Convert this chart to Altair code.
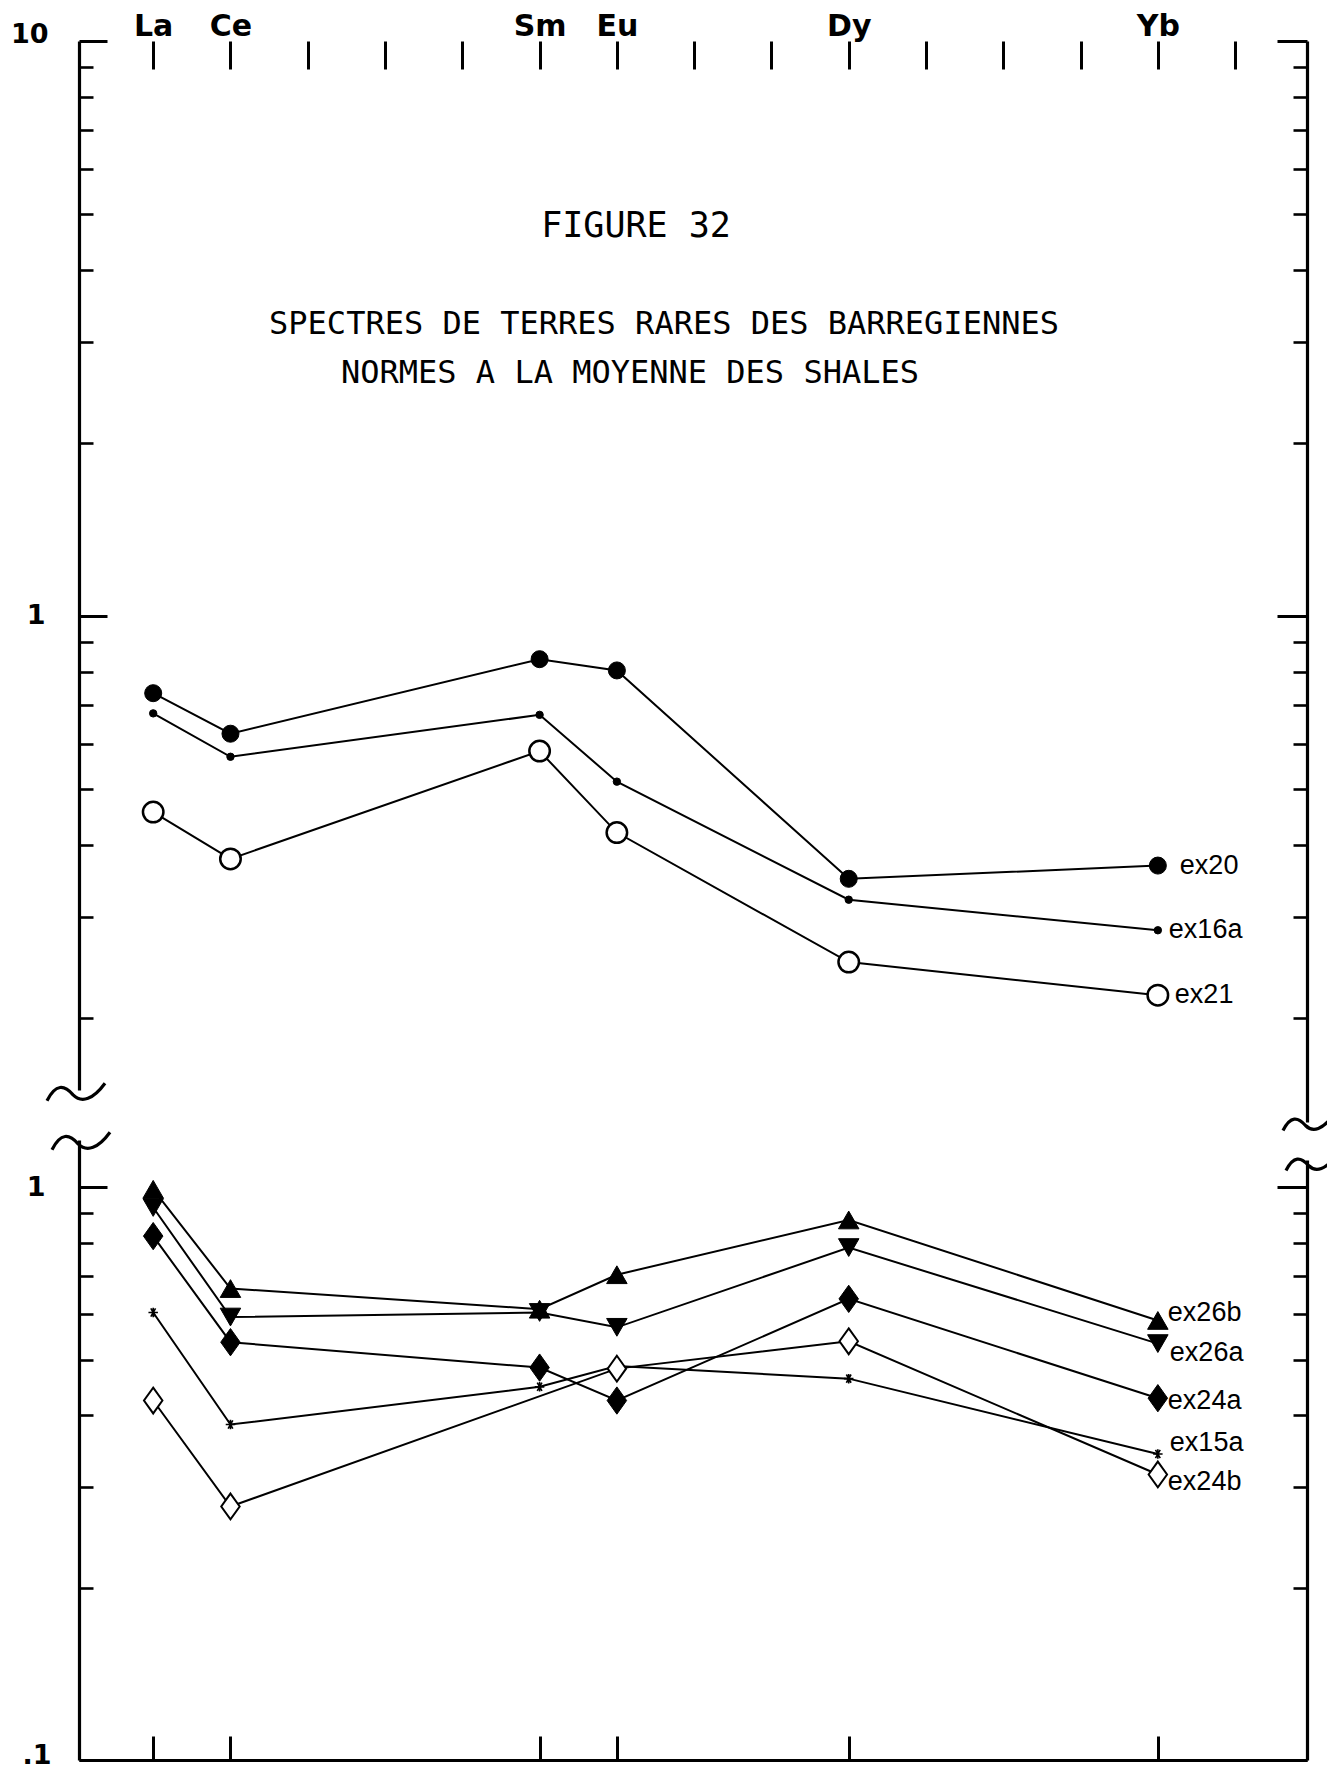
import json
import altair as alt
import pandas as pd

# ---------------- data ----------------
elements = ["La", "Ce", "Pr", "Nd", "Pm", "Sm", "Eu", "Gd", "Tb", "Dy", "Ho", "Er", "Tm", "Yb", "Lu"]
measured = ["La", "Ce", "Sm", "Eu", "Dy", "Yb"]

upper_series = ["ex20", "ex16a", "ex21"]
ex20 = [0.734, 0.624, 0.841, 0.804, 0.349, 0.368]
ex16a = [0.677, 0.569, 0.673, 0.515, 0.321, 0.284]
ex21 = [0.456, 0.378, 0.582, 0.420, 0.250, 0.219]

lower_series = ["ex26b", "ex26a", "ex24a", "ex15a", "ex24b"]
ex26b = [0.991, 0.665, 0.612, 0.703, 0.876, 0.585]
ex26a = [0.921, 0.593, 0.604, 0.569, 0.784, 0.533]
ex24a = [0.821, 0.536, 0.484, 0.424, 0.638, 0.428]
ex15a = [0.604, 0.385, 0.448, 0.487, 0.463, 0.342]
ex24b = [0.424, 0.277, None, 0.482, 0.538, 0.315]

major_ticks_upper = [1, 10]
minor_ticks_upper = [0.2, 0.3, 0.4, 0.5, 0.6, 0.7, 0.8, 0.9, 2, 3, 4, 5, 6, 7, 8, 9]
major_ticks_lower = [0.1, 1]
minor_ticks_lower = [0.2, 0.3, 0.4, 0.5, 0.6, 0.7, 0.8, 0.9]

title_1 = "FIGURE  32"
title_2 = "SPECTRES DE TERRES RARES DES BARREGIENNES"
title_3 = "NORMES A LA MOYENNE DES SHALES"


def rows(names, values_list):
    out = []
    for name, vals in zip(names, values_list):
        for el, v in zip(measured, vals):
            if v is None:
                continue
            out.append({"series": name, "el": el, "idx": elements.index(el), "value": v})
    return pd.DataFrame(out)


upper_df = rows(upper_series, [ex20, ex16a, ex21])
lower_df = rows(lower_series, [ex26b, ex26a, ex24a, ex15a, ex24b])

# ---------------- layout ----------------
W, H = 1228, 1719
X_DOMAIN = [-0.96, 14.93]
SCALES = {
    "UL": ([0.1498, 10], [1049, 0]),
    "UR": ([0.1318, 10], [1081, 0]),
    "LL": ([0.1, 1.208], [1719, 1099]),
    "LR": ([0.1, 1.115], [1719, 1119]),
}


def yscale(key):
    dom, rng = SCALES[key]
    return alt.Scale(type="log", domain=dom, range=rng, nice=False)


def xscale():
    return alt.Scale(domain=X_DOMAIN, nice=False, zero=False)


DIAMOND = "M0,-1.4L1,0L0,1.4L-1,0Z"
STAR = "M-1,0L1,0M-0.5,-0.87L0.5,0.87M-0.5,0.87L0.5,-0.87M0,-1L0,1"
WAVE = "M-1,0.3C-0.7,-0.3 -0.4,-0.25 -0.1,0.1C0.2,0.4 0.6,0.25 1,-0.3"

styles = {
    "ex20": dict(shape="circle", size=290, fill="black", strokeWidth=1),
    "ex16a": dict(shape="circle", size=55, fill="black", strokeWidth=1),
    "ex21": dict(shape="circle", size=420, fill="white", strokeWidth=2.5),
    "ex26b": dict(shape="triangle-up", size=420, fill="black", strokeWidth=1),
    "ex26a": dict(shape="triangle-down", size=420, fill="black", strokeWidth=1),
    "ex24a": dict(shape=DIAMOND, size=380, fill="black", strokeWidth=1),
    "ex24b": dict(shape=DIAMOND, size=340, fill="white", strokeWidth=2),
    "ex15a": dict(shape=STAR, size=90, fill="none", strokeWidth=1.6),
}
label_offsets = {
    "ex20": (22, 0), "ex16a": (11, 0), "ex21": (17, 0),
    "ex26b": (10, -7), "ex26a": (12, 9), "ex24a": (10, 3), "ex15a": (12, -11), "ex24b": (10, 8),
}
LABEL_FONT = "Liberation Sans"

layers = []

# ---------- axis layers ----------
def y_axis_layer(key, values, axis):
    return alt.Chart(pd.DataFrame({"v": values})).mark_point(opacity=0, size=1).encode(
        y=alt.Y("v:Q", scale=yscale(key), axis=axis, title="")
    )


def tick_axis(orient, values, size, domain, width=3):
    return alt.Axis(orient=orient, offset=-W, values=values, tickSize=size, tickWidth=width,
                    tickColor="black", ticks=True, domain=domain, domainWidth=3.2,
                    domainColor="black", labels=False, grid=False, tickCap="butt")


def label_axis(value, text, padding, shift):
    return alt.Axis(orient="left", values=[value], ticks=False, tickSize=0, domain=False, grid=False,
                    labelExpr=json.dumps(text), labelFont="DejaVu Sans", labelFontWeight="bold",
                    labelFontSize=27, labelColor="black", labelPadding=padding,
                    labelOffset=shift, labelOverlap=False, labelFlush=False)


# left side (ticks point inward -> right-oriented axis shifted to x=0)
layers.append(y_axis_layer("UL", major_ticks_upper, tick_axis("right", major_ticks_upper, 28, True)))
layers.append(y_axis_layer("UL", minor_ticks_upper, tick_axis("right", minor_ticks_upper, 14, False, 2.6)))
layers.append(y_axis_layer("UL", [10], label_axis(10, "10", 31, -7)))
layers.append(y_axis_layer("UL", [1], label_axis(1, "1", 34, 0)))
layers.append(y_axis_layer("LL", major_ticks_lower, tick_axis("right", major_ticks_lower, 28, True)))
layers.append(y_axis_layer("LL", minor_ticks_lower, tick_axis("right", minor_ticks_lower, 14, False, 2.6)))
layers.append(y_axis_layer("LL", [1], label_axis(1, "1", 34, 0)))
layers.append(y_axis_layer("LL", [0.1], label_axis(0.1, ".1", 28, -5)))
# right side
layers.append(y_axis_layer("UR", major_ticks_upper, tick_axis("left", major_ticks_upper, 30, True)))
layers.append(y_axis_layer("UR", minor_ticks_upper, tick_axis("left", minor_ticks_upper, 14, False, 2.6)))
layers.append(y_axis_layer("LR", major_ticks_lower, tick_axis("left", major_ticks_lower, 30, True)))
layers.append(y_axis_layer("LR", minor_ticks_lower, tick_axis("left", minor_ticks_lower, 14, False, 2.6)))

# x axes
all_idx = list(range(len(elements)))
measured_idx = [elements.index(e) for e in measured]
label_expr = json.dumps(elements) + "[datum.value]"


def x_axis_layer(values, axis):
    return alt.Chart(pd.DataFrame({"idx": values})).mark_point(opacity=0, size=1).encode(
        x=alt.X("idx:Q", scale=xscale(), axis=axis, title="")
    )


layers.append(x_axis_layer(all_idx, alt.Axis(orient="bottom", offset=-H, values=all_idx, tickSize=28,
                                             tickWidth=3, tickColor="black", domain=False,
                                             labels=False, grid=False, tickCap="butt")))
layers.append(x_axis_layer(measured_idx, alt.Axis(orient="top", values=measured_idx, ticks=False,
                                                  tickSize=0, domain=False, grid=False,
                                                  labelExpr=label_expr, labelBaseline="alphabetic",
                                                  labelFont="DejaVu Sans", labelFontWeight="bold",
                                                  labelFontSize=30, labelColor="black",
                                                  labelPadding=6, labelOverlap=False,
                                                  labelFlush=False)))
layers.append(x_axis_layer(measured_idx, alt.Axis(orient="top", offset=-H, values=measured_idx,
                                                  tickSize=24, tickWidth=3, tickColor="black",
                                                  domain=True, domainWidth=3.2, domainColor="black",
                                                  labels=False, grid=False, tickCap="butt")))

# ---------- data layers ----------
def panel(df, names, key):
    out = []
    out.append(alt.Chart(df).mark_line(color="black", strokeWidth=2).encode(
        x=alt.X("idx:Q", scale=xscale(), axis=None),
        y=alt.Y("value:Q", scale=yscale(key), axis=None),
        detail="series:N",
    ))
    for name in names:
        st = styles[name]
        sub = df[df["series"] == name]
        mk = dict(shape=st["shape"], size=st["size"], stroke="black", strokeWidth=st["strokeWidth"],
                  opacity=1)
        if st["fill"] == "none":
            mark = alt.Chart(sub).mark_point(filled=False, **mk)
        else:
            mark = alt.Chart(sub).mark_point(filled=True, fill=st["fill"], **mk)
        out.append(mark.encode(
            x=alt.X("idx:Q", scale=xscale(), axis=None),
            y=alt.Y("value:Q", scale=yscale(key), axis=None),
        ))
    for name in names:
        dx, dy = label_offsets[name]
        sub = df[(df["series"] == name) & (df["el"] == "Yb")]
        out.append(alt.Chart(sub).mark_text(align="left", baseline="middle", dx=dx, dy=dy,
                                            font=LABEL_FONT, fontSize=27, color="black").encode(
            x=alt.X("idx:Q", scale=xscale(), axis=None),
            y=alt.Y("value:Q", scale=yscale(key), axis=None),
            text="series:N",
        ))
    return out


layers += panel(upper_df, upper_series, "UL")
layers += panel(lower_df, lower_series, "LL")

# ---------- title text ----------
def note(text, x, y, align, size):
    return alt.Chart(alt.Data(values=[{}])).mark_text(
        text=text, align=align, baseline="middle", font="DejaVu Sans Mono", fontSize=size,
        color="black").encode(x=alt.value(x), y=alt.value(y))


layers.append(note(title_1, 557, 185, "center", 35))
layers.append(note(title_2, 585, 283, "center", 32))
layers.append(note(title_3, 262, 332, "left", 32))

# ---------- axis break marks ----------
def wave(x, y, width):
    return alt.Chart(alt.Data(values=[{}])).mark_point(
        shape=WAVE, size=width * width, filled=False, stroke="black", strokeWidth=3.2,
        opacity=1).encode(x=alt.value(x), y=alt.value(y))


layers.append(wave(-3, 1051, 58))
layers.append(wave(2, 1100, 58))
layers.append(wave(1229, 1082, 50))
layers.append(wave(1232, 1122, 50))

chart = alt.layer(*layers).resolve_scale(y="independent").resolve_axis(
    x="independent", y="independent"
).properties(
    width=W, height=H,
    autosize=alt.AutoSizeParams(type="none"),
    padding={"left": 71, "top": 33, "right": 20, "bottom": 12},
    background="white",
).configure_view(strokeWidth=0)

chart.save("out.html", embed_options={"renderer": "svg", "actions": False})
